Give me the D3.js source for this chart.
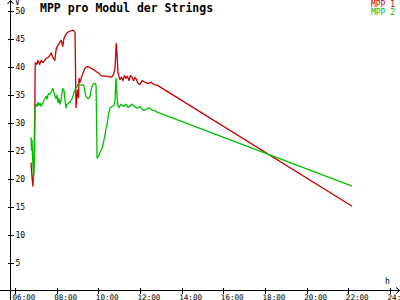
<!DOCTYPE html>
<html>
<head>
<meta charset="utf-8">
<script src="https://cdn.jsdelivr.net/npm/d3@7"></script>
<style>
  html, body { margin: 0; padding: 0; background: #fff; }
  svg { display: block; }
  text { font-family: "DejaVu Sans Mono", "Liberation Mono", monospace; }
</style>
</head>
<body>
<div id="chart"></div>
<script>
// time of day in decimal hours, values in volt
const mpp1Time = [6.77, 6.82, 6.86, 6.91, 6.95, 6.97, 7.06, 7.10, 7.19, 7.25, 7.34, 7.43, 7.50, 7.58,
  7.67, 7.74, 7.82, 7.91, 7.98, 8.06, 8.15, 8.22, 8.29, 8.35, 8.42, 8.51, 8.64, 8.80, 8.88, 8.93,
  9.00, 9.05, 9.07, 9.12, 9.19, 9.26, 9.36, 9.46, 9.55, 9.65, 9.74, 9.84, 9.94, 10.03, 10.13, 10.27,
  10.42, 10.56, 10.66, 10.73, 10.80, 10.86, 10.90, 10.94, 10.99, 11.04, 11.11, 11.18, 11.26, 11.33,
  11.40, 11.47, 11.54, 11.62, 11.69, 11.76, 11.83, 11.90, 12.00, 12.10, 12.24, 12.38, 12.53, 12.67,
  12.82, 22.18];
const mpp1Val = [22.9, 20.1, 18.7, 22.4, 31.9, 40.7, 40.4, 41.1, 40.4, 41.1, 40.7, 41.1, 41.5, 41.6,
  42.0, 42.4, 41.6, 41.1, 43.2, 43.8, 44.3, 44.7, 43.6, 45.0, 45.6, 46.1, 46.3, 46.5, 46.1, 32.7,
  35.8, 34.5, 37.9, 37.2, 38.1, 38.8, 39.7, 40.0, 39.9, 39.7, 39.5, 39.3, 39.0, 38.8, 38.4, 38.3,
  38.3, 38.1, 38.2, 38.6, 39.7, 44.1, 42.0, 39.0, 38.3, 37.7, 38.1, 37.5, 38.4, 37.9,
  38.3, 37.5, 38.4, 38.1, 37.5, 38.1, 37.7, 37.0, 36.8, 37.5, 37.2, 37.0, 37.2, 36.8,
  36.7, 15.1];

const mpp2Time = [6.77, 6.79, 6.82, 6.84, 6.86, 6.89, 6.91, 6.94, 6.96, 7.01, 7.06, 7.10, 7.15, 7.20,
  7.25, 7.30, 7.34, 7.39, 7.44, 7.49, 7.54, 7.58, 7.63, 7.68, 7.73, 7.78, 7.82, 7.87, 7.92, 7.97,
  8.02, 8.06, 8.11, 8.16, 8.21, 8.26, 8.30, 8.35, 8.40, 8.45, 8.50, 8.54, 8.59, 8.64, 8.69, 8.74,
  8.78, 8.83, 8.88, 8.93, 8.98, 9.02, 9.07, 9.12, 9.17, 9.22, 9.26, 9.31, 9.36, 9.41, 9.46, 9.50,
  9.55, 9.60, 9.65, 9.70, 9.74, 9.79, 9.84, 9.89, 9.94, 9.98, 10.08, 10.18, 10.27, 10.32, 10.37,
  10.42, 10.46, 10.51, 10.56, 10.66, 10.75, 10.80, 10.85, 10.90, 10.94, 10.99, 11.09, 11.14, 11.23,
  11.33, 11.42, 11.52, 11.62, 11.71, 11.81, 11.90, 12.00, 12.10, 12.19, 12.29, 12.38, 12.48, 12.58,
  12.67, 12.82, 22.18];
const mpp2Val = [27.4, 25.1, 26.9, 24.2, 22.4, 20.1, 21.5, 25.1, 32.6, 33.3, 32.9, 33.6, 33.1, 33.5,
  32.9, 33.3, 33.5, 34.0, 34.3, 34.7, 34.2, 34.9, 35.2, 35.1, 35.4, 35.8, 36.1, 35.4, 34.7, 34.3,
  34.9, 33.6, 34.3, 33.3, 34.0, 35.4, 36.1, 35.8, 34.0, 32.6, 33.3, 33.3, 33.6, 33.6, 34.0, 34.3,
  34.7, 35.4, 35.8, 36.1, 36.5, 36.8, 36.8, 36.7, 36.7, 36.8, 36.8, 36.5, 35.4, 34.7, 34.5, 34.3,
  34.3, 34.7, 35.8, 36.5, 36.8, 37.0, 37.0, 36.7, 23.7, 23.8, 24.7, 25.4, 26.9, 27.8, 29.0,
  29.7, 30.8, 31.9, 32.6, 32.9, 33.1, 34.0, 37.9, 34.5, 33.1, 32.7, 33.3, 33.1, 32.9,
  33.3, 32.7, 33.0, 33.3, 32.9, 32.7, 32.6, 32.9, 32.4, 32.2, 32.4, 32.6, 32.6, 32.2,
  32.2, 31.9, 18.7];

const yTicks = [5, 10, 15, 20, 25, 30, 35, 40, 45, 50];
const xTicks = [6, 8, 10, 12, 14, 16, 18, 20, 22, 24];
const seriesNames = ['MPP 1', 'MPP 2'];
const seriesColors = ['#c40000', '#00be00'];

const width = 400;
const height = 300;
const axisX = 10.5;
const axisY = 290.5;

const x = d3.scaleLinear().domain([6, 24]).range([15, 390]);
const y = d3.scaleLinear().domain([0, 50]).range([291, 10.5]);

const svg = d3.select('#chart').append('svg')
  .attr('width', width)
  .attr('height', height)
  .attr('viewBox', [0, 0, width, height]);

const fmtHour = (h) => `${String(h).padStart(2, '0')}:00`;

// y axis
const yAxis = (g) => g
  .attr('transform', `translate(${axisX},0)`)
  .call(d3.axisRight(y).tickValues(yTicks).tickSize(3).tickPadding(2))
  .call((g) => g.select('.domain').remove())
  .call((g) => g.selectAll('.tick line').attr('x1', -3).attr('x2', 3))
  .call((g) => g.selectAll('.tick text')
    .attr('font-size', 8)
    .attr('font-family', '"DejaVu Sans Mono", monospace')
    .attr('fill', '#000'));

// x axis
const xAxis = (g) => g
  .attr('transform', `translate(0,${axisY})`)
  .call(d3.axisBottom(x).tickValues(xTicks).tickFormat(fmtHour).tickSize(3).tickPadding(1))
  .call((g) => g.select('.domain').remove())
  .call((g) => g.selectAll('.tick line').attr('y1', -3).attr('y2', 3))
  .call((g) => g.selectAll('.tick text')
    .attr('text-anchor', 'start')
    .attr('x', -3)
    .attr('dy', '0.72em')
    .attr('font-size', 7.6)
    .attr('font-family', '"DejaVu Sans Mono", monospace')
    .attr('fill', '#000'));

svg.append('g').call(yAxis);
svg.append('g').call(xAxis);
svg.selectAll('.tick line').attr('stroke', '#000').attr('shape-rendering', 'crispEdges');

// axis lines with arrows
svg.append('line')
  .attr('x1', axisX).attr('x2', axisX).attr('y1', 0).attr('y2', height)
  .attr('stroke', '#000').attr('shape-rendering', 'crispEdges');
svg.append('line')
  .attr('x1', 0).attr('x2', width).attr('y1', axisY).attr('y2', axisY)
  .attr('stroke', '#000').attr('shape-rendering', 'crispEdges');
svg.append('path')
  .attr('d', `M${axisX - 3},4 L${axisX},0.5 L${axisX + 3},4`)
  .attr('fill', 'none').attr('stroke', '#000');
svg.append('path')
  .attr('d', `M${width - 4},${axisY - 3} L${width - 0.5},${axisY} L${width - 4},${axisY + 3}`)
  .attr('fill', 'none').attr('stroke', '#000');

svg.append('text').attr('x', 15).attr('y', 5).attr('font-size', 8).text('V');
svg.append('text').attr('x', 385).attr('y', 284).attr('font-size', 8).text('h');

// title
svg.append('text')
  .attr('x', 40).attr('y', 11.5)
  .attr('font-size', 11.5)
  .attr('font-weight', 'bold')
  .text('MPP pro Modul der Strings');

// series
const series = [
  { name: seriesNames[0], color: seriesColors[0], time: mpp1Time, val: mpp1Val },
  { name: seriesNames[1], color: seriesColors[1], time: mpp2Time, val: mpp2Val },
];

const line = d3.line()
  .x((d) => x(d[0]))
  .y((d) => y(d[1]));

series.forEach((s) => {
  svg.append('path')
    .datum(d3.zip(s.time, s.val))
    .attr('fill', 'none')
    .attr('stroke', s.color)
    .attr('stroke-width', 1.3)
    .attr('stroke-linejoin', 'round')
    .attr('d', line);
});

// legend
svg.append('g')
  .selectAll('text')
  .data(series)
  .join('text')
  .attr('x', 395)
  .attr('y', (d, i) => 7 + i * 8)
  .attr('text-anchor', 'end')
  .attr('font-size', 8)
  .attr('fill', (d) => d.color)
  .text((d) => d.name);
</script>
</body>
</html>
